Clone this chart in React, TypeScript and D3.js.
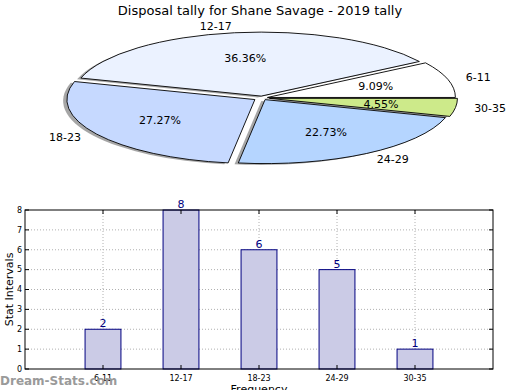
import { useMemo } from 'react';
import * as d3 from 'd3';

const categories = ['6-11', '12-17', '18-23', '24-29', '30-35'];
const counts = [2, 8, 6, 5, 1];
const sliceColors = ['#ffffff', '#ebf2ff', '#c6d9ff', '#b5d5ff', '#cdea8a'];
const explode = [0.03, 0.03, 0.045, 0.03, 0.04];
const yTicks = [0, 1, 2, 3, 4, 5, 6, 7, 8];

const W = 520;
const H = 390;
const FONT = 'DejaVu Sans, Verdana, sans-serif';

// pie geometry (ellipse, matplotlib-like)
const cx = 262;
const cy = 98;
const rx = 188;
const ry = 64;

// bar panel
const plot = { left: 25, right: 493, top: 210, bottom: 369 };

export default function App() {
  const slices = useMemo(() => {
    const pie = d3.pie<number>().sort(null).startAngle(0).endAngle(Math.PI * 2);
    const total = d3.sum(counts);
    return pie(counts).map((s, i) => {
      const t0 = s.startAngle;
      const t1 = s.endAngle;
      const tm = (t0 + t1) / 2;
      const ox = cx + explode[i] * rx * Math.cos(tm);
      const oy = cy - explode[i] * ry * Math.sin(tm);
      const pt = (t: number, k = 1) => [ox + k * rx * Math.cos(t), oy - k * ry * Math.sin(t)];
      const [x0, y0] = pt(t0);
      const [x1, y1] = pt(t1);
      const large = t1 - t0 > Math.PI ? 1 : 0;
      const d = `M${ox},${oy}L${x0},${y0}A${rx},${ry} 0 ${large} 0 ${x1},${y1}Z`;
      const [lx, ly] = pt(tm, 1.1);
      const [px, py] = pt(tm, 0.6);
      return {
        d,
        lx,
        ly,
        px,
        py,
        anchor: lx > ox ? 'start' : 'end',
        pct: ((counts[i] / total) * 100).toFixed(2) + '%',
        label: categories[i],
        color: sliceColors[i],
      };
    });
  }, []);

  const x = d3.scaleLinear().domain([0, categories.length + 1]).range([plot.left, plot.right]);
  const y = d3.scaleLinear().domain([0, 8]).range([plot.bottom, plot.top]);
  const barW = (x(1) - x(0)) * 0.46;

  return (
    <svg width={W} height={H} style={{ position: 'absolute', left: 0, top: 0 }} fontFamily={FONT}>
      <rect width={W} height={H} fill="#fff" />
      <text x={260} y={15} textAnchor="middle" fontSize={13}>
        Disposal tally for Shane Savage - 2019 tally
      </text>

      {/* pie shadows */}
      <g transform={`translate(${-0.02 * rx},${0.02 * ry})`}>
        {slices.map((s, i) => (
          <path key={i} d={s.d} fill="#4d4d4d" opacity={0.5} />
        ))}
      </g>
      {slices.map((s, i) => (
        <path key={i} d={s.d} fill={s.color} stroke="#000" strokeWidth={0.9} strokeLinejoin="miter" />
      ))}
      {slices.map((s, i) => (
        <g key={i} fontSize={11}>
          <text x={s.lx} y={s.ly} dy="0.35em" textAnchor={s.anchor}>
            {s.label}
          </text>
          <text x={s.px} y={s.py} dy="0.35em" textAnchor="middle">
            {s.pct}
          </text>
        </g>
      ))}

      {/* bar chart */}
      <g>
        {yTicks.slice(1, -1).map((t) => (
          <line key={t} x1={plot.left} x2={plot.right} y1={y(t)} y2={y(t)} stroke="#b0b0b0" strokeDasharray="1 2" strokeWidth={1} />
        ))}
        {categories.map((c, i) => (
          <line key={c} x1={x(i + 1)} x2={x(i + 1)} y1={plot.top} y2={plot.bottom} stroke="#b0b0b0" strokeDasharray="1 2" strokeWidth={1} />
        ))}
        {counts.map((v, i) => (
          <g key={i}>
            <rect
              x={x(i + 1) - barW / 2}
              y={y(v)}
              width={barW}
              height={y(0) - y(v)}
              fill="#cbcbe6"
              stroke="#000080"
              strokeWidth={1}
            />
            <text x={x(i + 1)} y={y(v) - 2} textAnchor="middle" fontSize={11} fill="#000080">
              {v}
            </text>
          </g>
        ))}
        <rect x={plot.left} y={plot.top} width={plot.right - plot.left} height={plot.bottom - plot.top} fill="none" stroke="#000" strokeWidth={1} />
        {yTicks.map((t) => (
          <g key={t}>
            <line x1={plot.left} x2={plot.left + 4} y1={y(t)} y2={y(t)} stroke="#000" />
            <line x1={plot.right} x2={plot.right - 4} y1={y(t)} y2={y(t)} stroke="#000" />
            <text x={plot.left - 3} y={y(t)} dy="0.35em" textAnchor="end" fontSize={8}>
              {t}
            </text>
          </g>
        ))}
        {categories.map((c, i) => (
          <g key={c}>
            <line x1={x(i + 1)} x2={x(i + 1)} y1={plot.bottom} y2={plot.bottom - 4} stroke="#000" />
            <line x1={x(i + 1)} x2={x(i + 1)} y1={plot.top} y2={plot.top + 4} stroke="#000" />
            <text x={x(i + 1)} y={plot.bottom + 12} textAnchor="middle" fontSize={8}>
              {c}
            </text>
          </g>
        ))}
        <text transform={`translate(13,${(plot.top + plot.bottom) / 2}) rotate(-90)`} textAnchor="middle" fontSize={11}>
          Stat Intervals
        </text>
        <text x={(plot.left + plot.right) / 2} y={393} textAnchor="middle" fontSize={11}>
          Frequency
        </text>
      </g>

      <text x={0} y={385} fontSize={12} fontWeight="bold" fill="#9a9a9a">
        Dream-Stats.com
      </text>
    </svg>
  );
}
